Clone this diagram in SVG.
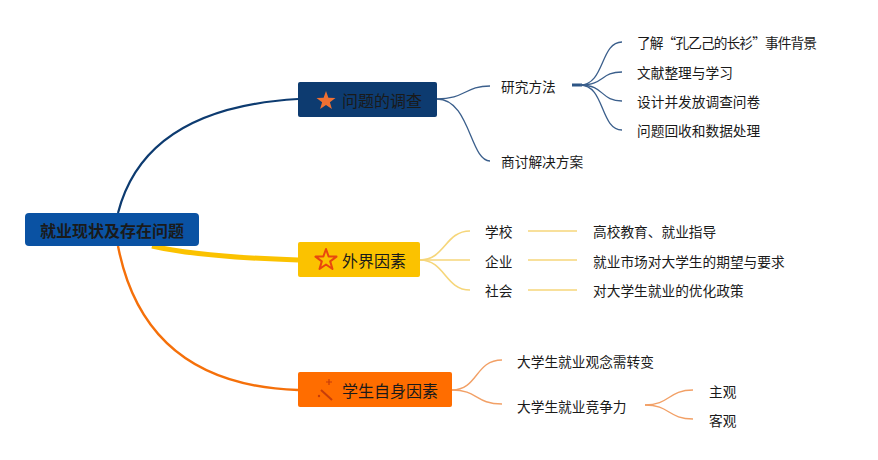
<svg xmlns="http://www.w3.org/2000/svg" width="878" height="460" viewBox="0 0 878 460">
<style>
text{font-family:"Noto Sans CJK SC","Noto Sans",sans-serif;fill:#1a1a1a;dominant-baseline:central}
.t{font-size:13.7px}
.n{font-size:16px}
.b1{fill:none;stroke:#3b5f8c;stroke-width:1.3}
.b2{fill:none;stroke:#f6d67a;stroke-width:1.6}
.b3{fill:none;stroke:#f2a066;stroke-width:1.4}
</style>
<rect width="878" height="460" fill="#fff"/>
<g id="connectors">
<path d="M118,213 Q145,108 298,99" fill="none" stroke="#0d3b70" stroke-width="2.2"/>
<path d="M152,246 Q200,257 298,260" fill="none" stroke="#fbc200" stroke-width="5"/>
<path d="M118,246 Q145,385 298,390" fill="none" stroke="#f5700a" stroke-width="2.4"/>
<path class="b1" d="M437,99 C465,99 465,86 490,86"/>
<path class="b1" d="M437,99 C470,99 470,161 490,161"/>
<path d="M572,85 L582,85" stroke="#2d5585" stroke-width="3"/>
<path class="b1" d="M580,85 C605,85 600,42 622,42"/>
<path class="b1" d="M580,85 C605,85 600,72 622,72"/>
<path class="b1" d="M580,85 C605,85 600,101 622,101"/>
<path class="b1" d="M580,85 C605,85 600,130 622,130"/>
<path class="b2" d="M420,260 C445,260 445,231 470,231"/>
<path class="b2" d="M420,260 L470,260"/>
<path class="b2" d="M420,260 C445,260 445,290 470,290"/>
<path class="b2" d="M528,231 L577,231"/>
<path class="b2" d="M528,260 L577,260"/>
<path class="b2" d="M528,290 L577,290"/>
<path class="b3" d="M452,390 C478,390 475,360 502,360"/>
<path class="b3" d="M452,390 C478,390 475,404 502,404"/>
<path class="b3" d="M645,405 C670,405 668,390 693,390"/>
<path class="b3" d="M645,405 C670,405 668,419 693,419"/>
</g>
<g id="root">
<rect x="25" y="213" width="174" height="33" rx="4" fill="#0a52a3"/>
<text x="112" y="230" text-anchor="middle" font-size="16" font-weight="bold">就业现状及存在问题</text>
</g>
<g id="node1">
<rect x="298" y="82" width="139" height="35" rx="2" fill="#0d3b70"/>
<polygon points="326,91 328.4,97.7 335.5,97.9 329.9,102.3 331.9,109.1 326,105.1 320.1,109.1 322.1,102.3 316.5,97.9 323.6,97.7" fill="#f07032"/>
<text class="n" x="342" y="100">问题的调查</text>
</g>
<g id="node2">
<rect x="298" y="242" width="122" height="35" rx="2" fill="#fbc200"/>
<polygon points="326,249 328.6,256.4 336.5,256.6 330.2,261.4 332.5,269 326,264.5 319.5,269 321.8,261.4 315.5,256.6 323.4,256.4" fill="none" stroke="#e8470e" stroke-width="2" stroke-linejoin="round"/>
<text class="n" x="342" y="260">外界因素</text>
</g>
<g id="node3">
<rect x="298" y="372" width="154" height="35" rx="2" fill="#ff6d00"/>
<line x1="321" y1="390" x2="332" y2="400" stroke="#c63d0a" stroke-width="2"/>
<path d="M329,379 v6 M326,382 h6" stroke="#c63d0a" stroke-width="1.2"/>
<circle cx="319" cy="396" r="1.2" fill="#c63d0a"/>
<text class="n" x="342" y="390">学生自身因素</text>
</g>
<g id="n1c1"><text class="t" x="501" y="86">研究方法</text></g>
<g id="n1c2"><text class="t" x="501" y="161">商讨解决方案</text></g>
<g id="n1c1a"><text class="t" x="637" y="42" textLength="180" lengthAdjust="spacing">了解“孔乙己的长衫”事件背景</text></g>
<g id="n1c1b"><text class="t" x="637" y="72">文献整理与学习</text></g>
<g id="n1c1c"><text class="t" x="637" y="101">设计并发放调查问卷</text></g>
<g id="n1c1d"><text class="t" x="637" y="130">问题回收和数据处理</text></g>
<g id="n2c1"><text class="t" x="485" y="231">学校</text></g>
<g id="n2c2"><text class="t" x="485" y="261">企业</text></g>
<g id="n2c3"><text class="t" x="485" y="290">社会</text></g>
<g id="n2c1a"><text class="t" x="593" y="231">高校教育、就业指导</text></g>
<g id="n2c2a"><text class="t" x="593" y="261">就业市场对大学生的期望与要求</text></g>
<g id="n2c3a"><text class="t" x="593" y="290">对大学生就业的优化政策</text></g>
<g id="n3c1"><text class="t" x="517" y="361">大学生就业观念需转变</text></g>
<g id="n3c2"><text class="t" x="517" y="406">大学生就业竞争力</text></g>
<g id="n3c2a"><text class="t" x="709" y="391">主观</text></g>
<g id="n3c2b"><text class="t" x="709" y="420">客观</text></g>
</svg>
